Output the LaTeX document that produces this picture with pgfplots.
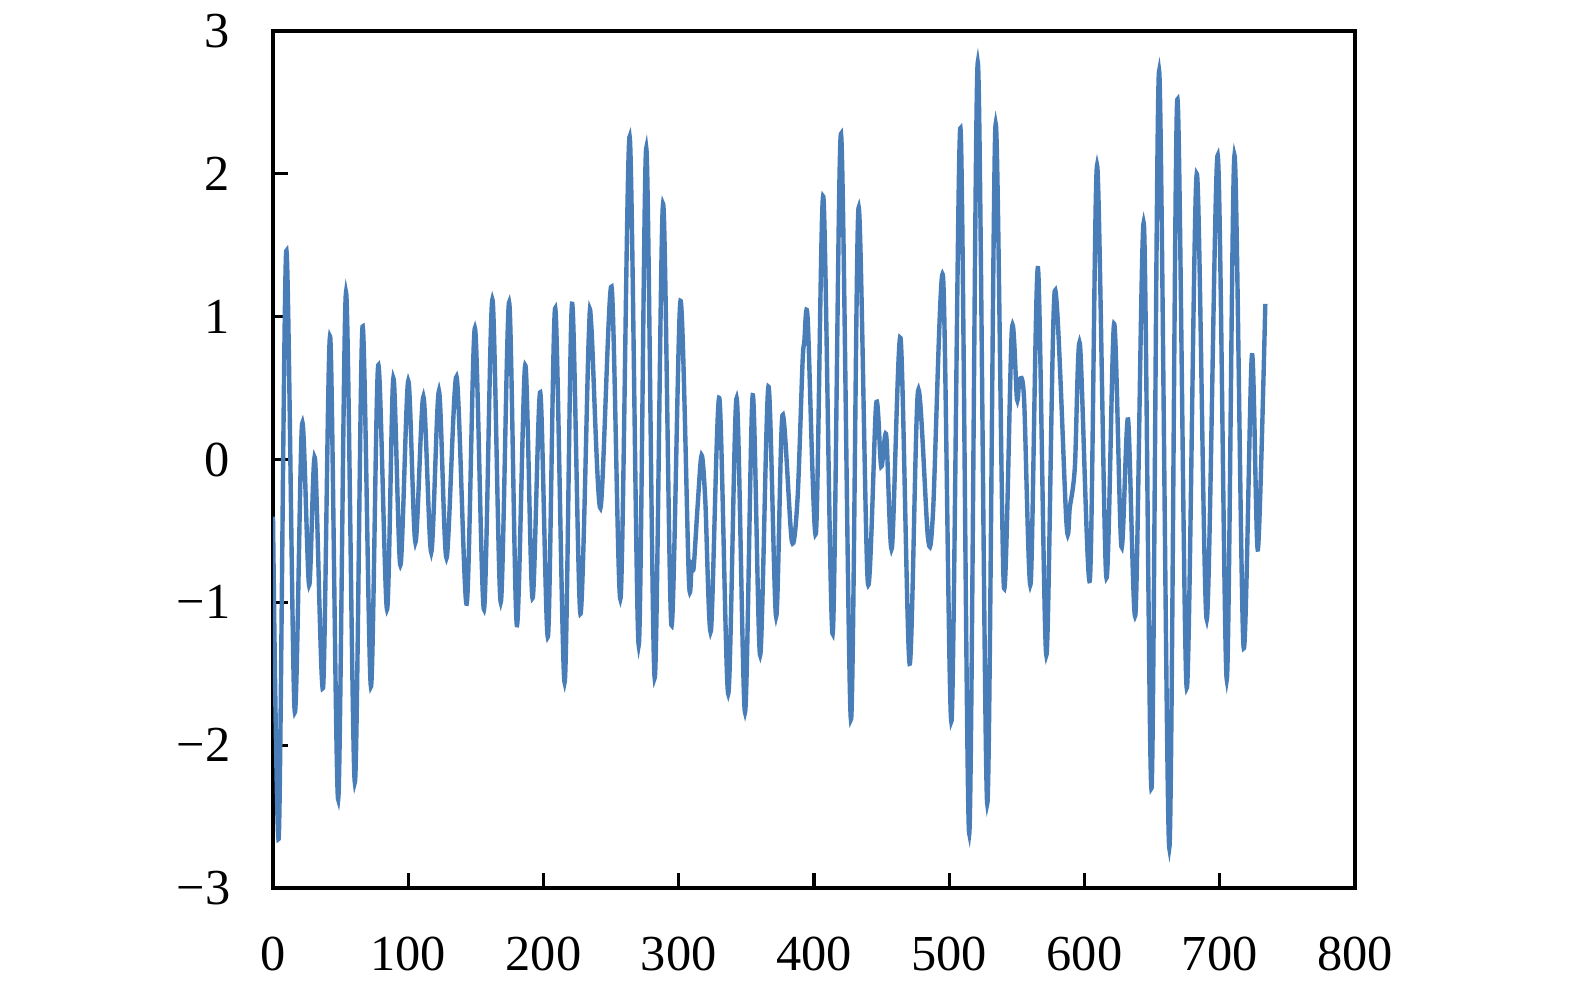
\documentclass[border=0pt]{standalone}
\usepackage{fontspec}
\setmainfont{Liberation Serif}
\usepackage{pgfplots}
\usepackage{pgfplotstable}
\pgfplotsset{compat=1.18}

\definecolor{sigblue}{RGB}{72,125,184}

% signal: local extrema
\pgfplotstableread{
x y
0 -0.40
4.3 -2.64
9.8 1.46
16 -1.76
21.5 0.25
26.7 -0.88
31 0.01
37 -1.60
42.3 0.86
48.2 -2.38
54 1.17
60.5 -2.26
66.2 0.93
72.4 -1.59
77.8 0.66
84.3 -1.05
89 0.57
94.2 -0.74
100 0.55
105.3 -0.58
111.2 0.44
117 -0.65
122.7 0.48
128.3 -0.69
135.7 0.58
143.2 -1.01
149.3 0.92
156 -1.05
162.2 1.12
168.4 -1.00
174.6 1.10
180.3 -1.16
186.5 0.66
191.9 -0.97
197.6 0.47
203.3 -1.24
208.7 1.06
215.6 -1.56
221.1 1.09
227.3 -1.08
233.4 0.84
235.4 0.93
242.1 -0.34
250.3 1.21
257 -0.97
263.7 2.26
270.4 -1.30
276 2.18
282.2 -1.53
288.4 1.79
294.6 -1.16
301.3 1.11
307.5 -0.84
309.6 -0.72
311 -0.76
314 -0.32
316.9 0.03
319.6 -0.28
323.8 -1.20
330 0.43
336.6 -1.64
342.8 0.43
349 -1.77
354.7 0.45
360.2 -1.37
366.3 0.51
372 -1.10
376.7 0.31
383.6 -0.57
387.8 -0.28
391.5 0.67
392.8 0.82
395.3 0.99
401.4 -0.52
406.9 1.84
413.8 -1.22
420 2.28
427.3 -1.82
432.9 1.76
439.8 -0.86
446 0.39
449.7 -0.05
453.4 0.17
457.6 -0.62
464 0.85
470.7 -1.43
476.9 0.48
484.3 -0.55
488 -0.37
495.4 1.28
501.7 -1.83
508.3 2.32
514.8 -2.62
521.1 2.78
528.1 -2.41
534.2 2.34
540.4 -0.89
546.3 0.91
550.1 0.42
552 0.56
555.3 0.43
560.2 -0.87
565.6 1.34
571.8 -1.37
578 1.18
586.7 -0.45
589.2 -0.33
592.9 -0.05
596.6 0.81
604 -0.84
609.3 2.06
616.1 -0.82
621.9 0.95
627.3 -0.61
632.2 0.28
637.7 -1.08
643.9 1.65
649.6 -2.30
655.2 2.72
662.7 -2.72
668.6 2.52
675.6 -1.60
683 2.00
690.4 -1.12
698.5 2.13
705.2 -1.54
710.9 2.13
717.6 -1.31
723.8 0.73
728.2 -0.63
733.7 1.09
}\signal

\begin{document}
\begin{tikzpicture}
\path[use as bounding box] (-68.25pt,-26pt) rectangle (325.5pt,222pt);
\begin{axis}[
    at={(0,0)}, anchor=south west,
    scale only axis,
    width=270.5pt,
    height=214.25pt,
    xmin=0, xmax=800,
    ymin=-3, ymax=3,
    xtick={0,100,...,800},
    xticklabels={0,100,200,300,400,500,600,700,800},
    ytick={-3,-2,...,3},
    yticklabels={−3,−2,−1,0,1,2,3},
    xtick pos=bottom,
    ytick pos=left,
    tick align=inside,
    major tick length=3.75pt,
    axis line style={line width=0.8pt},
    every tick/.style={black, line width=0.8pt},
    tick label style={font=\fontsize{12.6}{15}\selectfont},
    xticklabel style={inner sep=0pt, anchor=north, yshift=-12pt},
    yticklabel style={inner sep=0pt, anchor=east, xshift=-10.5pt},
]
\addplot[sigblue, line width=1.1pt, smooth, tension=0.5, mark=none] table[x=x, y=y] {\signal};
\end{axis}
\end{tikzpicture}
\end{document}
